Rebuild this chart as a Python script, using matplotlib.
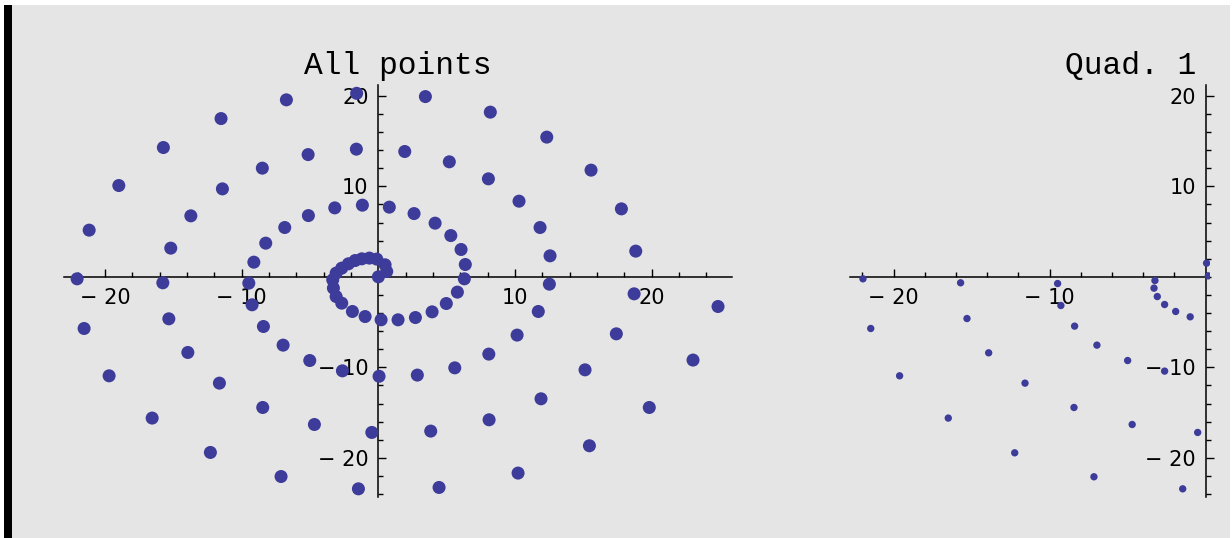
import numpy as np
import matplotlib
matplotlib.use('Agg')
import matplotlib.pyplot as plt
from matplotlib.patches import Rectangle
from matplotlib.ticker import MultipleLocator, FixedLocator, FuncFormatter

# all points of the spiral
all_x = [-22.04, -21.16, -18.99, -15.73, -11.51, -6.73, -1.59,
         -15.19, -13.72, -11.41, -8.49, -5.14, -1.61,
         -15.77, -9.48, -9.11, -8.24, -6.85, -5.12, -3.19, -1.17, 0.80,
         3.44, 8.19, 12.32, 15.56, 17.78, 18.83,
         1.93, 5.19, 8.05, 10.29, 11.83, 12.56, 12.51,
         2.61, 4.15, 5.30, 6.05, 6.36, 6.29,
         -21.53, -15.33, -9.24, -8.41, -6.97, -5.02, -2.63, 0.05,
         -19.70, -13.94, -11.63, -8.46, -4.68, -0.48,
         -16.55, -12.29, -7.12, -1.46,
         1.44, 2.71, 3.93, 4.97, 5.78,
         11.70, 10.15, 8.08, 5.59, 2.85,
         18.71, 17.41, 15.12, 11.90, 8.10, 3.83,
         24.85, 23.02, 19.82, 15.44, 10.22, 4.44,
         0.00, 0.61, 0.49, -0.12, -0.66, -1.21, -1.70, -2.19, -2.68,
         -3.09, -3.34, -3.29, -3.09, -2.68, -1.90, -0.97, 0.20]
all_y = [-0.22, 5.16, 10.09, 14.29, 17.49, 19.56, 20.28,
         3.17, 6.74, 9.72, 12.01, 13.51, 14.11,
         -0.66, -0.70, 1.62, 3.72, 5.45, 6.77, 7.62, 7.92, 7.70,
         19.92, 18.20, 15.44, 11.79, 7.51, 2.84,
         13.85, 12.71, 10.83, 8.36, 5.45, 2.32, -0.81,
         6.99, 5.93, 4.56, 3.02, 1.36, -0.22,
         -5.71, -4.64, -3.09, -5.49, -7.55, -9.25, -10.39, -10.99,
         -10.94, -8.36, -11.75, -14.44, -16.32, -17.20,
         -15.61, -19.41, -22.07, -23.43,
         -4.75, -4.50, -3.87, -2.95, -1.69,
         -3.83, -6.44, -8.54, -10.06, -10.86,
         -1.88, -6.30, -10.28, -13.48, -15.80, -17.05,
         -3.28, -9.20, -14.44, -18.67, -21.69, -23.28,
         0.00, 0.59, 1.33, 1.96, 2.07, 1.99, 1.80, 1.44, 0.96,
         0.41, -0.33, -1.25, -2.18, -2.91, -3.83, -4.39, -4.75]

# points in the right panel
quad_x = [-21.97, -15.71, -9.49, -3.25, -3.31, -3.10, -2.63, -1.92, -0.99,
          -21.47, -15.30, -9.28, -8.40, -6.97, -5.00, -2.63,
          -19.62, -13.91, -11.58, -8.44, -4.71, -0.51,
          -16.50, -12.24, -7.16, -1.47, 0.06, 0.17]
quad_y = [-0.22, -0.66, -0.74, -0.41, -1.25, -2.18, -3.06, -3.83, -4.42,
          -5.71, -4.61, -3.17, -5.45, -7.55, -9.25, -10.42,
          -10.94, -8.40, -11.75, -14.44, -16.32, -17.20,
          -15.61, -19.45, -22.10, -23.43, 1.51, 0.11]

dot = '#3d3c9a'
W, H = 1232, 538

fig = plt.figure(figsize=(W / 100, H / 100), dpi=100)
fig.patch.set_facecolor('white')
fig.patches.append(Rectangle((4 / W, 0), 1226 / W, 533 / H, transform=fig.transFigure,
                             facecolor='#e5e5e5', edgecolor='none', zorder=-2))
fig.patches.append(Rectangle((4 / W, 0), 8 / W, 533 / H, transform=fig.transFigure,
                             facecolor='black', edgecolor='none', zorder=-1))


def lab(v, pos):
    v = int(round(v))
    if v < 0:
        return '\u2212 ' + str(-v)
    return str(v)


def style(ax, xlo, xhi, xticks):
    ax.set_facecolor('none')
    for s in ['top', 'right']:
        ax.spines[s].set_visible(False)
    ax.spines['left'].set_position(('data', 0))
    ax.spines['bottom'].set_position(('data', 0))
    ax.spines['bottom'].set_bounds(xlo, xhi)
    for s in ['left', 'bottom']:
        ax.spines[s].set_linewidth(1.1)
    ax.xaxis.set_major_locator(FixedLocator(xticks))
    ax.yaxis.set_major_locator(FixedLocator([-20, -10, 10, 20]))
    ax.xaxis.set_minor_locator(MultipleLocator(2))
    ax.yaxis.set_minor_locator(MultipleLocator(2))
    ax.xaxis.set_major_formatter(FuncFormatter(lab))
    ax.yaxis.set_major_formatter(FuncFormatter(lab))
    ax.tick_params(which='both', direction='in', width=1, color='black')
    ax.tick_params(which='major', length=6)
    ax.tick_params(which='minor', length=3.5)
    ax.tick_params(axis='x', pad=8)
    ax.tick_params(axis='y', pad=7)
    for t in ax.get_xticklabels() + ax.get_yticklabels():
        t.set_fontsize(15)
        t.set_family('DejaVu Sans')


ylo, yhi = -24.3, 21.2
y0 = (H - 496.7) / H
hh = (496.7 - 85) / H

ax1 = fig.add_axes([64 / W, y0, (731.7 - 64) / W, hh])
ax1.scatter(all_x, all_y, s=88, color=dot, edgecolors='none', zorder=3)
ax1.set_xlim(-23.0, 25.85)
ax1.set_ylim(ylo, yhi)
style(ax1, -23.0, 25.85, [-20, -10, 10, 20])
ax1.text(0.5, 1 + 11 / 411.7, 'All points', transform=ax1.transAxes, ha='center',
         va='baseline', fontsize=22.5, family='Liberation Mono')

ax2 = fig.add_axes([850 / W, y0, 360 / W, hh])
ax2.scatter(quad_x, quad_y, s=28, color=dot, edgecolors='none', zorder=3)
ax2.set_xlim(-22.8, 0.28)
ax2.set_ylim(ylo, yhi)
style(ax2, -22.8, 0, [-20, -10])
ax2.text((1196 - 850) / 360, 1 + 11 / 411.7, 'Quad. 1', transform=ax2.transAxes,
         ha='right', va='baseline', fontsize=22.5, family='Liberation Mono')

fig.savefig('out.png', dpi=100)
